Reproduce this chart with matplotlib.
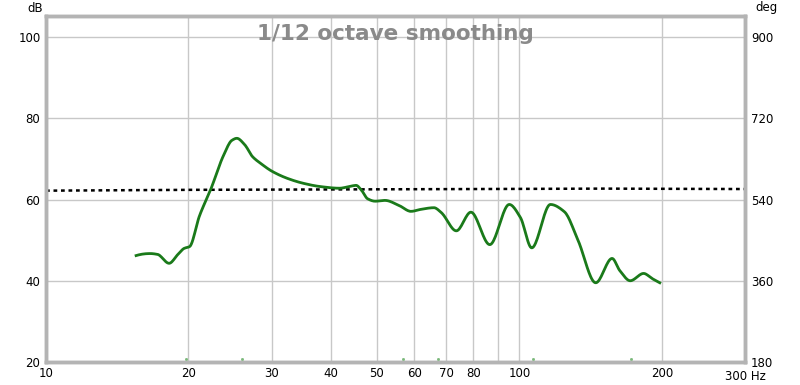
import numpy as np
import matplotlib.pyplot as plt
from matplotlib.ticker import FixedLocator, NullLocator

# green SPL curve (Hz, dB)
freq = [15.5, 16.6, 17.2, 18.2, 19.0, 19.6, 20.1, 21.1, 22.3, 23.7, 24.7, 25.3,
        26.3, 27.3, 28.5, 30.0, 32.4, 35.0, 38.0, 41.7, 44.0, 45.2, 46.4,
        47.8, 49.6, 52.0, 55.8, 59.0, 62.0, 66.0, 68.4, 73.6, 79.0, 86.6,
        95.2, 100.5, 106.2, 116.3, 124.5, 133.0, 145.0, 157.0, 163.0, 171.5,
        183.0, 191.0, 198.0]
spl = [46.2, 46.7, 46.5, 44.3, 46.5, 48.0, 48.4, 56.0, 62.6, 70.8, 74.6, 75.1,
       73.5, 70.6, 68.8, 67.0, 65.2, 64.0, 63.2, 62.8, 63.3, 63.5, 62.3,
       60.2, 59.6, 59.8, 58.5, 57.1, 57.6, 58.0, 56.8, 52.3, 56.9, 48.9,
       58.8, 55.6, 48.1, 58.8, 57.0, 50.0, 39.5, 45.5, 42.5, 40.0,
       41.8, 40.5, 39.5]

# dotted trace (Hz, dB)
dot_f = [10, 20, 40, 80, 150, 300]
dot_db = [62.2, 62.4, 62.5, 62.6, 62.7, 62.6]

# small green markers along the bottom edge (Hz)
mark_f = [19.8, 25.9, 56.9, 67.4, 107, 172]

xticks = [10, 20, 30, 40, 50, 60, 70, 80, 100, 200, 300]
xlabels = ['10', '20', '30', '40', '50', '60', '70', '80', '100', '200', '']
xgrid = [20, 30, 40, 50, 60, 70, 80, 90, 100, 200]
yticks = [20, 40, 60, 80, 100]
degticks = [180, 360, 540, 720, 900]

fig = plt.figure(figsize=(8, 3.85), dpi=100)
ax = fig.add_axes([0.0575, 0.06, 0.874, 0.898])

ax.set_xscale('log')
ax.set_xlim(10, 300)
ax.set_ylim(20, 105.2)

for g in xgrid:
    ax.axvline(g, color='#c8c8c8', lw=1, zorder=0)
for g in yticks[1:]:
    ax.axhline(g, color='#c8c8c8', lw=1, zorder=0)

# smooth curve through the points in log-frequency
lf = np.log10(freq)
fine = np.linspace(lf[0], lf[-1], 600)
try:
    from scipy.interpolate import PchipInterpolator
    yy = PchipInterpolator(lf, spl)(fine)
except Exception:
    yy = np.interp(fine, lf, spl)
ax.plot(10 ** fine, yy, color='#1a7a1a', lw=2, zorder=3)

ax.plot(dot_f, dot_db, color='black', lw=1.8, ls=(0, (1.5, 1.5)), zorder=2)

ax.plot(mark_f, [20.6] * len(mark_f), ls='none', marker='s', ms=1,
        color='#7ab87a', zorder=4)

ax.xaxis.set_major_locator(FixedLocator(xticks))
ax.xaxis.set_minor_locator(NullLocator())
ax.set_xticklabels(xlabels)
ax.set_yticks(yticks)
ax.tick_params(length=0, labelsize=8.5, pad=4)

ax2 = ax.twinx()
ax2.set_ylim(180, 180 + (105.2 - 20) * 9)
ax2.set_yticks(degticks)
ax2.tick_params(length=0, labelsize=8.5, pad=4)

for a in (ax, ax2):
    for s in a.spines.values():
        s.set_color('#b4b4b4')
        s.set_linewidth(2.5)

ax.text(0.5, 0.948, '1/12 octave smoothing', transform=ax.transAxes,
        ha='center', va='center', fontsize=15.5, fontweight='bold',
        color='#8a8a8a')
fig.text(35 / 800, 1 - 8 / 385, 'dB', ha='center', va='center', fontsize=8.5)
fig.text(766 / 800, 1 - 8 / 385, 'deg', ha='center', va='center', fontsize=8.5)
fig.text(745 / 800, 1 - 377 / 385, '300 Hz', ha='center', va='center',
         fontsize=8.5)

fig.savefig('out.png', dpi=100)
